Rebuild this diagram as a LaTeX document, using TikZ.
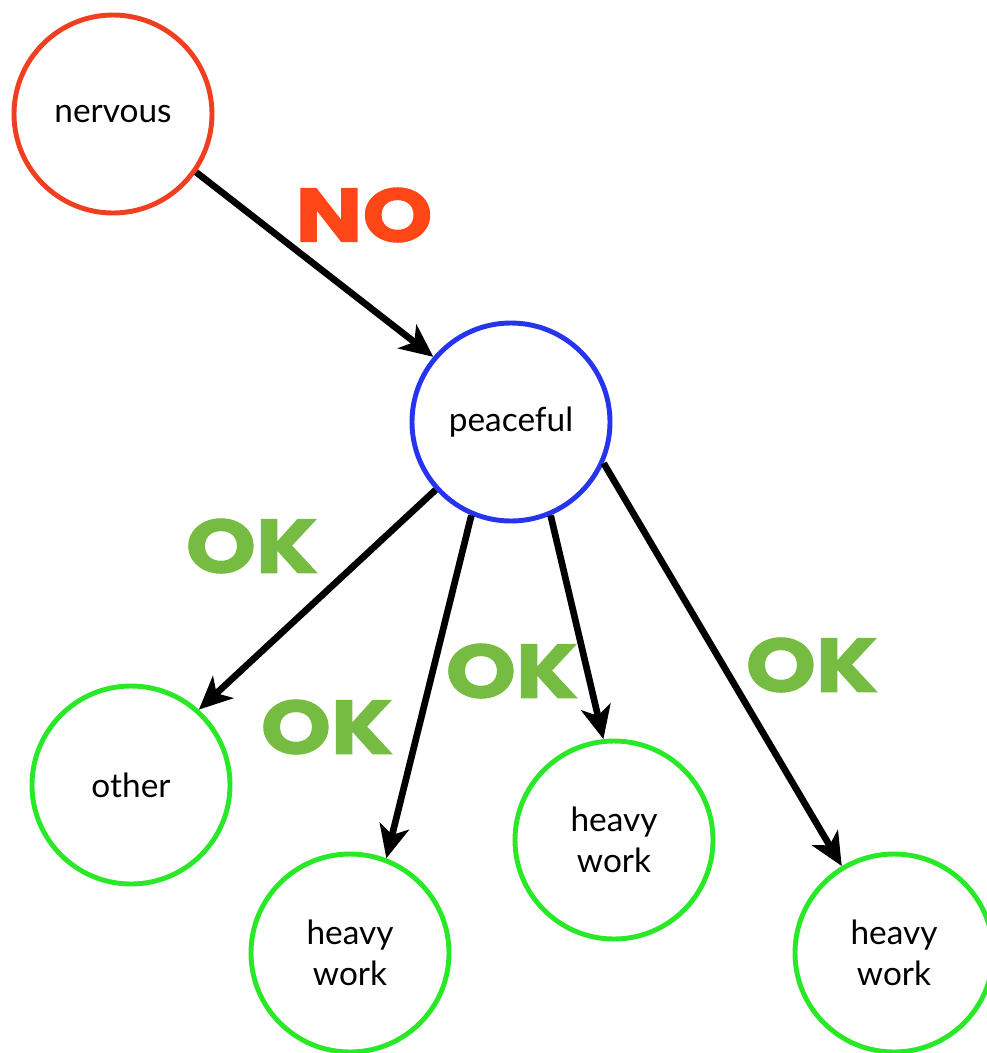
\documentclass[tikz,border=0pt]{standalone}
\usepackage{fontspec}
\setmainfont{Lato}
\newfontfamily\okfont[FakeStretch=1.18, FakeBold=1.6]{Poppins}
\usepackage{tikz}
\usetikzlibrary{arrows.meta}

\definecolor{nored}{RGB}{255,70,22}
\definecolor{ringred}{RGB}{240,62,32}
\definecolor{ringblue}{RGB}{38,52,238}
\definecolor{ringgreen}{RGB}{40,232,40}
\definecolor{okgreen}{RGB}{118,188,66}

\begin{document}
\begin{tikzpicture}[
  x=0.2mm, y=-0.2mm,
  state/.style={draw=#1, circle, line width=2.8pt, minimum size=3.96cm, inner sep=0pt,
    align=center, text=black, font=\fontsize{19}{23}\selectfont},
  arr/.style={-{Stealth[length=6.6mm, width=6mm, inset=1.8mm]}, line width=3.8pt},
  lbl/.style={font=\okfont\bfseries\fontsize{43}{43}\selectfont, inner sep=0pt}
]
\useasboundingbox (0,0) rectangle (987,1053);
\clip (0,0) rectangle (987,1053);
\node[state=ringred] (nerv) at (113,114) {nervous};
\node[state=ringblue] (peace) at (511,422) {peaceful};
\node[state=ringgreen] (oth) at (131,785) {other};
\node[state=ringgreen] (hwa) at (350,953) {heavy\\work};
\node[state=ringgreen] (hwb) at (614,840) {heavy\\work};
\node[state=ringgreen] (hwc) at (894,953) {heavy\\work};

\draw[arr] (nerv.325) -- (peace.140);
\draw[arr] (peace.222) -- (oth.48);
\draw[arr] (peace.247) -- (hwa.69);
\draw[arr] (peace.293) -- (hwb.96);
\draw[arr] (peace.336) -- (hwc.121);

\node[lbl, nored] (no) at (364,215) {NO};
\node[lbl, okgreen] (oka) at (252,546) {OK};
\node[lbl, okgreen] (okb) at (327,727) {OK};
\node[lbl, okgreen] (okc) at (512,671) {OK};
\node[lbl, okgreen] (okd) at (812,665) {OK};
\end{tikzpicture}
\end{document}
